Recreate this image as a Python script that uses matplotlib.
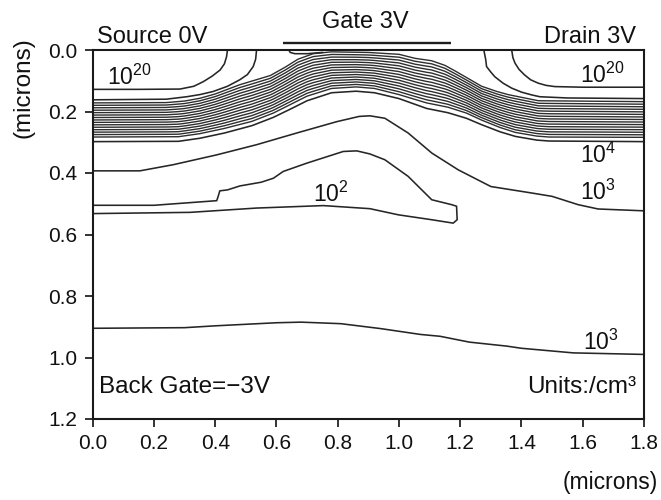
import numpy as np
import matplotlib
matplotlib.use("Agg")
import matplotlib.pyplot as plt

plt.rcParams['font.family'] = ['Liberation Sans', 'DejaVu Sans']
plt.rcParams['mathtext.fontset'] = 'custom'
plt.rcParams['mathtext.rm'] = 'Liberation Sans'
plt.rcParams['mathtext.it'] = 'Liberation Sans:italic'

# ---------------- data (microns) ----------------
x_ticks = [0.0, 0.2, 0.4, 0.6, 0.8, 1.0, 1.2, 1.4, 1.6, 1.8]
x_tick_labels = ["0.0", "0.2", "0.4", "0.6", "0.8", "1.0", "1.2", "1.4", "1.6", "1.8"]
y_ticks = [0.0, 0.2, 0.4, 0.6, 0.8, 1.0, 1.2]
y_tick_labels = ["0.0", "0.2", "0.4", "0.6", "0.8", "1.0", "1.2"]

# 10^20 contour around the source
src20_x = [0.0, 0.15, 0.285, 0.33, 0.361, 0.39, 0.416, 0.43, 0.437, 0.44]
src20_y = [0.128, 0.128, 0.127, 0.118, 0.103, 0.085, 0.065, 0.045, 0.022, 0.0]
# next contour around the source (joins the top of the band)
src19_x = [0.535, 0.532, 0.524, 0.505, 0.48, 0.44, 0.393, 0.35, 0.307, 0.24, 0.0]
src19_y = [0.0, 0.03, 0.054, 0.08, 0.097, 0.118, 0.135, 0.145, 0.152, 0.160, 0.162]

# 10^20 contour around the drain
drn20_x = [1.368, 1.372, 1.379, 1.392, 1.41, 1.43, 1.455, 1.48, 1.509, 1.6, 1.8]
drn20_y = [0.0, 0.025, 0.043, 0.063, 0.081, 0.097, 0.108, 0.115, 0.119, 0.121, 0.121]
drn19_x = [1.277, 1.283, 1.286, 1.30, 1.313, 1.34, 1.368, 1.40, 1.433, 1.46, 1.55, 1.8]
drn19_y = [0.0, 0.03, 0.054, 0.072, 0.087, 0.108, 0.124, 0.137, 0.146, 0.152, 0.156, 0.158]

# small contour under the gate edge
gate_edge_x = [0.64, 0.645, 0.66, 0.70, 0.75]
gate_edge_y = [0.0, 0.008, 0.012, 0.012, 0.008]

# dense band of contours (levels 10^5 .. 10^19): depth of its top and bottom lines
band_top_x = [0.0, 0.24, 0.30, 0.35, 0.40, 0.48, 0.58, 0.63, 0.67, 0.72, 0.78, 0.90,
              1.0, 1.052, 1.107, 1.15, 1.183, 1.23, 1.27, 1.32, 1.356, 1.455, 1.8]
band_top_y = [0.172, 0.171, 0.166, 0.157, 0.143, 0.113, 0.083, 0.055, 0.03, 0.012, 0.006, 0.008,
              0.014, 0.027, 0.035, 0.05, 0.068, 0.095, 0.118, 0.135, 0.145, 0.165, 0.168]
band_bot_x = [0.0, 0.28, 0.35, 0.43, 0.52, 0.59, 0.65, 0.70, 0.78, 0.86, 0.92, 1.0,
              1.09, 1.16, 1.22, 1.27, 1.33, 1.38, 1.45, 1.49, 1.8]
band_bot_y = [0.283, 0.282, 0.272, 0.255, 0.232, 0.205, 0.175, 0.15, 0.125, 0.12, 0.125, 0.145,
              0.172, 0.186, 0.205, 0.228, 0.252, 0.268, 0.28, 0.283, 0.284]
band_levels = [5, 6, 7, 8, 9, 10, 11, 12, 13, 14, 15, 16, 17, 18, 19]

# 10^4 contour just under the band
c4_x = [0.0, 0.28, 0.35, 0.43, 0.52, 0.59, 0.65, 0.70, 0.78, 0.86, 0.92, 1.0,
        1.09, 1.16, 1.22, 1.27, 1.33, 1.38, 1.45, 1.49, 1.8]
c4_y = [0.298, 0.297, 0.287, 0.27, 0.246, 0.219, 0.19, 0.165, 0.139, 0.134, 0.139, 0.158,
        0.19, 0.204, 0.222, 0.243, 0.266, 0.281, 0.293, 0.296, 0.298]

# upper 10^3 contour
c3a_x = [0.0, 0.154, 0.263, 0.405, 0.535, 0.666, 0.797, 0.87, 0.905, 0.954, 1.03,
         1.107, 1.194, 1.30, 1.433, 1.50, 1.585, 1.65, 1.8]
c3a_y = [0.393, 0.393, 0.373, 0.341, 0.308, 0.27, 0.233, 0.216, 0.214, 0.222, 0.27,
         0.335, 0.39, 0.444, 0.465, 0.476, 0.503, 0.517, 0.523]

# 10^2 contour (pocket)
c2_x = [0.0, 0.2, 0.405, 0.41, 0.415, 0.44, 0.481, 0.55, 0.59, 0.622, 0.699, 0.818,
        0.862, 0.905, 0.954, 1.03, 1.107, 1.172, 1.188, 1.19, 1.177, 1.107, 0.998,
        0.905, 0.753, 0.535, 0.318, 0.0]
c2_y = [0.505, 0.505, 0.49, 0.475, 0.458, 0.455, 0.442, 0.43, 0.417, 0.395, 0.368, 0.33,
        0.328, 0.338, 0.357, 0.411, 0.487, 0.503, 0.508, 0.552, 0.563, 0.552, 0.536,
        0.516, 0.506, 0.514, 0.528, 0.532]

# lower 10^3 contour
c3b_x = [0.0, 0.3, 0.4, 0.6, 0.68, 0.81, 0.94, 1.07, 1.134, 1.23, 1.352, 1.40, 1.569, 1.8]
c3b_y = [0.905, 0.903, 0.897, 0.887, 0.885, 0.89, 0.906, 0.925, 0.931, 0.95, 0.963, 0.97, 0.985, 0.99]

# gate electrode extent
gate_x = [0.62, 1.17]
gate_y = [-0.023, -0.023]

# contour labels: (text, x, y)
contour_labels = [
    (r'$\mathregular{10^{20}}$', 0.047, 0.088),
    (r'$\mathregular{10^{20}}$', 1.591, 0.081),
    (r'$\mathregular{10^{4}}$', 1.591, 0.341),
    (r'$\mathregular{10^{3}}$', 1.591, 0.464),
    (r'$\mathregular{10^{2}}$', 0.72, 0.468),
    (r'$\mathregular{10^{3}}$', 1.60, 0.951),
]

# ---------------- figure ----------------
W, H = 661, 500
fig = plt.figure(figsize=(W / 100, H / 100), dpi=100)
ax = fig.add_axes([92.7 / W, 1 - 419 / H, (644 - 92.7) / W, (419 - 50) / H])

line_col = '#262626'
lw = 1.15

# dense band via the library's contour routine
xg = np.linspace(0.0, 1.8, 900)
yg = np.linspace(0.0, 0.36, 700)
X, Y = np.meshgrid(xg, yg)
top = np.interp(X, band_top_x, band_top_y)
bot = np.interp(X, band_bot_x, band_bot_y)
field = band_levels[-1] - (band_levels[-1] - band_levels[0]) * (Y - top) / (bot - top)
ax.contour(X, Y, field, levels=band_levels, colors='#2e2e2e', linewidths=1.0)

for xs, ys in [(src20_x, src20_y), (src19_x, src19_y), (drn20_x, drn20_y),
               (drn19_x, drn19_y), (gate_edge_x, gate_edge_y), (c4_x, c4_y),
               (c3a_x, c3a_y), (c2_x, c2_y), (c3b_x, c3b_y)]:
    ax.plot(xs, ys, color=line_col, lw=lw)

ax.plot(gate_x, gate_y, color='#1e1e1e', lw=1.7, clip_on=False, solid_capstyle='butt')

for txt, x, y in contour_labels:
    ax.text(x, y, txt, fontsize=16.5, ha='left', va='center', color='#111111')

ax.set_xlim(0, 1.8)
ax.set_ylim(1.2, 0)
ax.set_xticks(x_ticks)
ax.set_xticklabels(x_tick_labels)
ax.set_yticks(y_ticks)
ax.set_yticklabels(y_tick_labels)
ax.tick_params(direction='out', length=6, width=1.2, labelsize=15, colors='#111111', pad=5)
for s in ax.spines.values():
    s.set_linewidth(1.5)
    s.set_color('#1a1a1a')

ax.text(0.02, 1.095, "Back Gate=\u22123V", fontsize=17.5, ha='left', va='center', color='#111111')
ax.text(1.775, 1.095, "Units:/cm³", fontsize=17.5, ha='right', va='center', color='#111111')

fig.text(97 / W, 1 - 42.7 / H, "Source 0V", fontsize=17, ha='left', va='baseline', color='#111111')
fig.text(365 / W, 1 - 28 / H, "Gate 3V", fontsize=17, ha='center', va='baseline', color='#111111')
fig.text(636 / W, 1 - 43 / H, "Drain 3V", fontsize=17, ha='right', va='baseline', color='#111111')
fig.text(24 / W, 1 - 88 / H, "(microns)", fontsize=17.5, rotation=90, ha='center', va='center', color='#111111')
fig.text(658 / W, 1 - 482 / H, "(microns)", fontsize=16.5, ha='right', va='center', color='#111111')

fig.savefig("out.png", dpi=100, facecolor='white')
